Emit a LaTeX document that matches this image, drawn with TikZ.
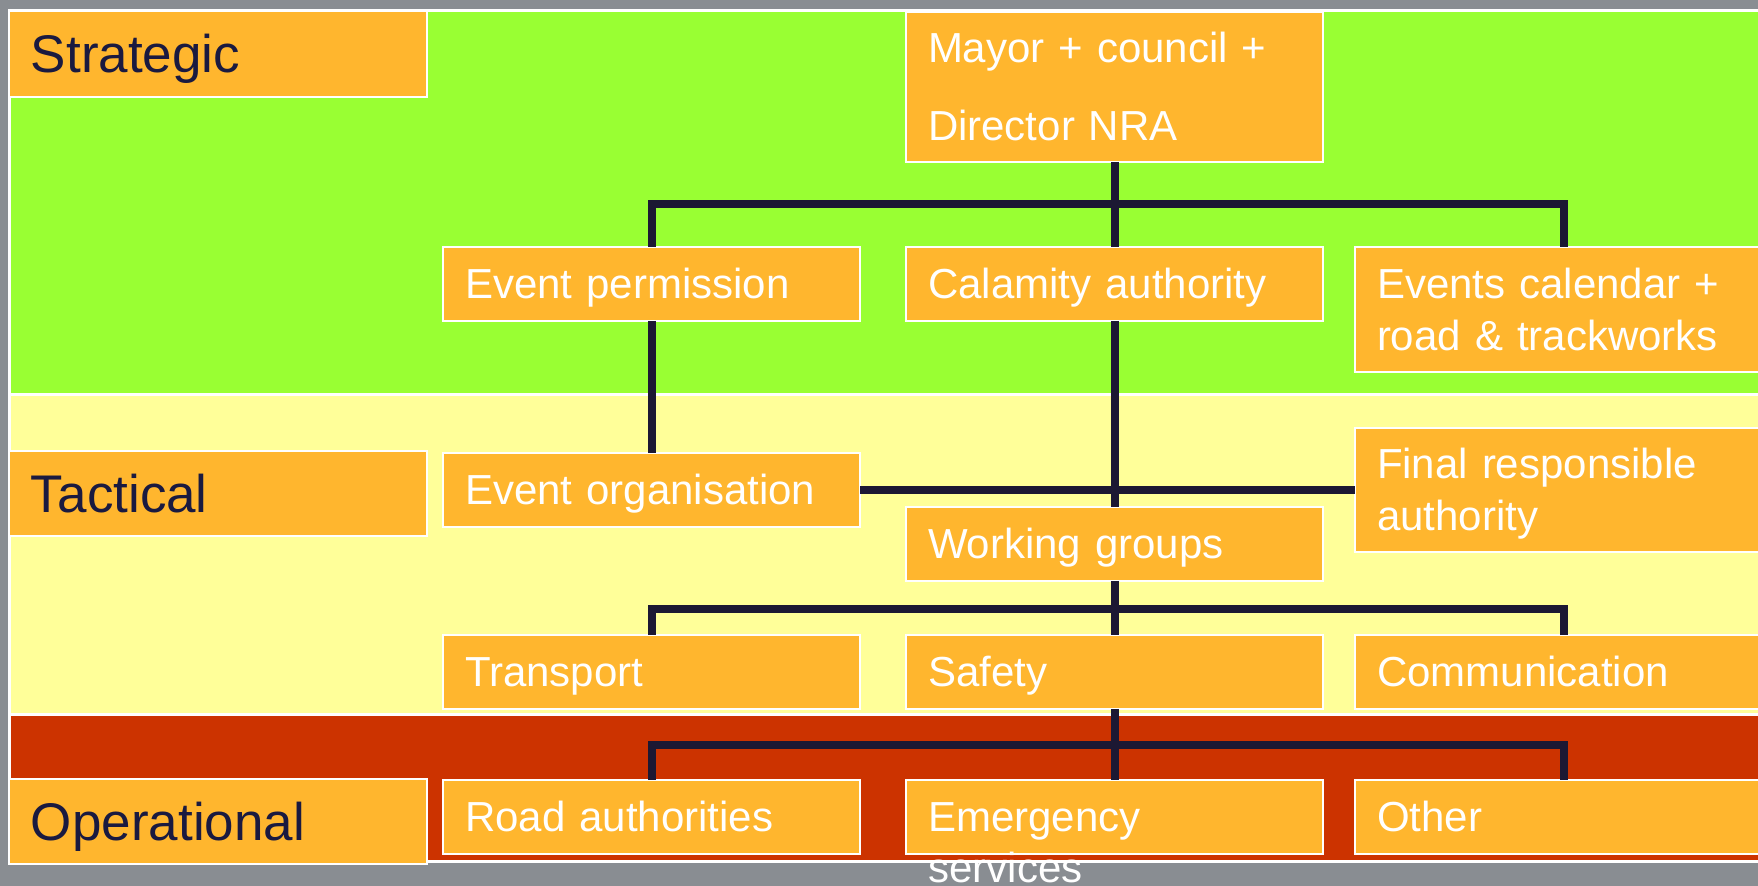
\documentclass[tikz,border=0pt]{standalone}
\usepackage{fontspec}
\setmainfont{Liberation Sans}
\usepackage{xcolor}
\usetikzlibrary{positioning}

\definecolor{slidegray}{HTML}{898D92}
\definecolor{stratgreen}{HTML}{99FF33}
\definecolor{tactyellow}{HTML}{FFFF99}
\definecolor{operred}{HTML}{CC3300}
\definecolor{boxorange}{HTML}{FFB62E}
\definecolor{linkdark}{HTML}{1C1833}
\definecolor{levelnavy}{HTML}{1A1A40}

\begin{document}
\begin{tikzpicture}[node distance=20pt,
    box/.style={draw=white, line width=1pt, fill=boxorange, text=white,
        font=\fontsize{21}{26}\selectfont, text width=186.5pt, align=left,
        inner xsep=11pt, inner ysep=0pt, outer sep=0pt, minimum height=37pt,
        text height=15pt, text depth=0pt},
    twoline/.style={box, text depth=26pt},
    level/.style={box, text=levelnavy, font=\fontsize{26.5}{32}\selectfont,
        text width=187pt, text height=19pt},
    band/.style={draw=white, line width=1.5pt},
    link/.style={draw=linkdark, line width=4pt}]

    \fill[slidegray] (0,0) rectangle (879pt,-443pt);
    \useasboundingbox (0,0) rectangle (879pt,-443pt);
    \clip (0,0) rectangle (879pt,-443pt);

    % bands
    \draw[band, fill=stratgreen] (4.5pt,-5.5pt) rectangle (890pt,-197.5pt);
    \draw[band, fill=tactyellow] (4.5pt,-197.5pt) rectangle (890pt,-357.5pt);
    \draw[band, fill=operred] (4.5pt,-357.5pt) rectangle (890pt,-431pt);

    % levels
    \node[level, anchor=north west, minimum height=43pt] (Strat) at (4.5pt,-5.5pt)
    { Strategic };

    \node[level, anchor=north west, minimum height=42.5pt] (Tact) at (4.5pt,-225.5pt)
    { Tactical };

    \node[level, anchor=north west, minimum height=42.5pt] (Oper) at (4.5pt,-389.5pt)
    { Operational };

    % ---------------------------------------------------------

    \node[twoline, anchor=north west, minimum height=75pt, text depth=39pt] (Mayor) at (453pt,-6pt)
    { Mayor + council +\\[13pt]Director NRA };

    \node[box, below=42.5pt of Mayor] (Calam)
    { Calamity authority };

    \node[box, left=23pt of Calam] (EvPerm)
    { Event permission };

    \node[twoline, right=16pt of Calam.north east, anchor=north west, minimum height=62.5pt] (EvCal)
    { Events calendar +\\road \& trackworks };

    \node[box, below=66pt of EvPerm] (EvOrg)
    { Event organisation };

    \node[twoline, below=28pt of EvCal, minimum height=62pt] (Final)
    { Final responsible\\authority };

    \node[box, below=93pt of Calam] (WGroups)
    { Working groups };

    % ---------------------------------------------------------

    \node[box, below=27pt of WGroups] (Safety)
    { Safety };

    \node[box, left=23pt of Safety] (Transp)
    { Transport };

    \node[box, right=16pt of Safety] (Comm)
    { Communication };

    \node[box, below=35.5pt of Safety] (Emerg)
    { Emergency };

    \node[box, left=23pt of Emerg] (Road)
    { Road authorities };

    \node[box, right=16pt of Emerg] (Other)
    { Other };

    \node[font=\fontsize{21}{26}\selectfont, text=white, inner sep=0pt, anchor=base west]
        (Services) at ([xshift=11pt, yshift=-25.5pt]Emerg.base west)
    { services };

    % connectors
    \draw[link] (Mayor) -- (Calam);
    \draw[link] (EvPerm.north) -- ++(0,21.5pt) -| (EvCal.north);
    \draw[link] (EvPerm) -- (EvOrg);
    \draw[link] (Calam) -- (WGroups);
    \draw[link] (EvOrg) -- (Final);
    \draw[link] (WGroups) -- (Safety);
    \draw[link] (Transp.north) -- ++(0,13pt) -| (Comm.north);
    \draw[link] (Safety) -- (Emerg);
    \draw[link] (Road.north) -- ++(0,17.5pt) -| (Other.north);
\end{tikzpicture}
\end{document}
